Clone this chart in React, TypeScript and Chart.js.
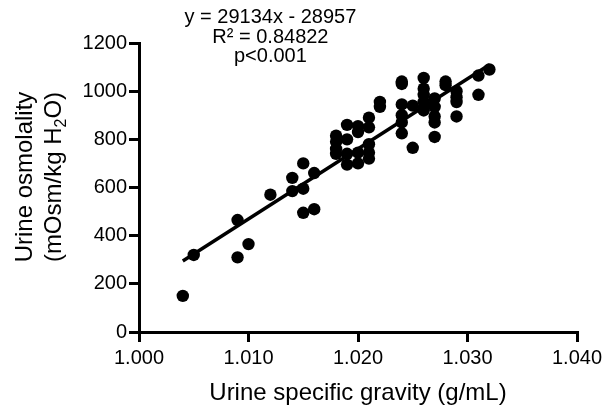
import React, { useEffect, useRef } from "react";
import { Chart, registerables } from "chart.js";

Chart.register(...registerables);

// Urine specific gravity (g/mL) vs urine osmolality (mOsm/kg H2O)
const sgValues = [
  1.004, 1.005, 1.009, 1.009, 1.010, 1.012, 1.014, 1.014, 1.015, 1.015,
  1.015, 1.016, 1.016, 1.018, 1.018, 1.018, 1.018, 1.019, 1.019, 1.019,
  1.019, 1.020, 1.020, 1.020, 1.020, 1.021, 1.021, 1.021, 1.021, 1.021,
  1.022, 1.022, 1.024, 1.024, 1.024, 1.024, 1.024, 1.024, 1.025, 1.025,
  1.026, 1.026, 1.026, 1.026, 1.026, 1.026, 1.027, 1.027, 1.027, 1.027,
  1.027, 1.028, 1.028, 1.029, 1.029, 1.029, 1.029, 1.031, 1.031, 1.032,
];
const osmValues = [
  150, 320, 310, 465, 365, 570, 585, 640, 495, 595,
  700, 510, 660, 740, 760, 790, 815, 695, 740, 800,
  860, 700, 745, 830, 855, 720, 745, 780, 850, 890,
  935, 955, 1040, 1030, 945, 900, 870, 825, 940, 765,
  1055, 1010, 985, 955, 930, 920, 970, 935, 895, 870,
  810, 1040, 1025, 1000, 975, 955, 895, 1065, 985, 1090,
];

// Regression line end points (as drawn)
const fitX = [1.004, 1.032];
const fitY = [295, 1110];

const xTicks = [1.0, 1.01, 1.02, 1.03, 1.04];
const yTicks = [0, 200, 400, 600, 800, 1000, 1200];

const annotationLines = ["y = 29134x - 28957", "R\u00B2 = 0.84822", "p<0.001"];
const xTitle = "Urine specific gravity (g/mL)";
const yTitleLine1 = "Urine osmolality";
const yTitleLine2Parts = ["(mOsm/kg H", "2", "O)"];

const FONT = "'Liberation Sans', Arial, sans-serif";

export default function App() {
  const ref = useRef<HTMLCanvasElement | null>(null);

  useEffect(() => {
    if (!ref.current) return;
    const textPlugin = {
      id: "textPlugin",
      afterDraw(chart: any) {
        const ctx = chart.ctx;
        const xs = chart.scales.x;
        const cx = xs.getPixelForValue(1.012);
        ctx.save();
        ctx.fillStyle = "#000";
        ctx.font = `20px ${FONT}`;
        ctx.textAlign = "center";
        ctx.textBaseline = "alphabetic";
        const baselines = [23, 43, 62];
        annotationLines.forEach((t, i) => ctx.fillText(t, cx, baselines[i]));
        ctx.restore();

        // y-axis title (two lines, rotated, with subscript)
        ctx.save();
        ctx.fillStyle = "#000";
        ctx.translate(0, 177);
        ctx.rotate(-Math.PI / 2);
        ctx.textBaseline = "alphabetic";
        ctx.font = `24px ${FONT}`;
        ctx.textAlign = "center";
        ctx.fillText(yTitleLine1, 0, 32);
        const big = `24px ${FONT}`;
        const small = `16px ${FONT}`;
        ctx.font = big;
        const w0 = ctx.measureText(yTitleLine2Parts[0]).width;
        const w2 = ctx.measureText(yTitleLine2Parts[2]).width;
        ctx.font = small;
        const w1 = ctx.measureText(yTitleLine2Parts[1]).width;
        const total = w0 + w1 + w2;
        let x0 = -total / 2;
        ctx.textAlign = "left";
        ctx.font = big;
        ctx.fillText(yTitleLine2Parts[0], x0, 61);
        x0 += w0;
        ctx.font = small;
        ctx.fillText(yTitleLine2Parts[1], x0, 66);
        x0 += w1;
        ctx.font = big;
        ctx.fillText(yTitleLine2Parts[2], x0, 61);
        ctx.restore();
      },
    };

    const chart = new Chart(ref.current, {
      type: "scatter",
      data: {
        datasets: [
          {
            type: "line",
            data: fitX.map((x, i) => ({ x, y: fitY[i] })),
            borderColor: "#000",
            borderWidth: 3.5,
            pointRadius: 0,
            fill: false,
            order: 1,
          } as any,
          {
            data: sgValues.map((x, i) => ({ x, y: osmValues[i] })),
            backgroundColor: "#000",
            borderColor: "#000",
            borderWidth: 0,
            pointRadius: 6.2,
            order: 0,
          },
        ],
      },
      options: {
        responsive: false,
        animation: false,
        layout: { padding: { top: 43, right: 36, left: 0, bottom: 0 } },
        plugins: {
          legend: { display: false },
          tooltip: { enabled: false },
        },
        scales: {
          x: {
            type: "linear",
            min: 1.0,
            max: 1.04,
            afterFit: (s: any) => {
              s.height = 79;
            },
            afterBuildTicks: (s: any) => {
              s.ticks = xTicks.map((v) => ({ value: v }));
            },
            ticks: {
              color: "#000",
              font: { family: FONT, size: 20 },
              padding: 4,
              maxRotation: 0,
              callback: (v: any) => Number(v).toFixed(3),
            },
            grid: {
              display: true,
              drawOnChartArea: false,
              drawTicks: true,
              tickLength: 10,
              lineWidth: 3,
              color: "#000",
            },
            border: { display: true, width: 3, color: "#000" },
            title: {
              display: true,
              text: xTitle,
              color: "#000",
              font: { family: FONT, size: 24 },
              padding: { top: 0, bottom: 3 },
            },
          },
          y: {
            type: "linear",
            min: 0,
            max: 1200,
            afterFit: (s: any) => {
              s.width = 139;
            },
            afterBuildTicks: (s: any) => {
              s.ticks = yTicks.map((v) => ({ value: v }));
            },
            ticks: {
              color: "#000",
              font: { family: FONT, size: 20 },
              padding: 2,
              callback: (v: any) => String(v),
            },
            grid: {
              display: true,
              drawOnChartArea: false,
              drawTicks: true,
              tickLength: 10,
              lineWidth: 3,
              color: "#000",
            },
            border: { display: true, width: 3, color: "#000" },
            title: { display: false },
          },
        },
      },
      plugins: [textPlugin],
    });
    return () => chart.destroy();
  }, []);

  return (
    <div style={{ position: "fixed", left: 0, top: 0, width: 613, height: 411, background: "#fff" }}>
      <canvas ref={ref} width={613} height={411} />
    </div>
  );
}
